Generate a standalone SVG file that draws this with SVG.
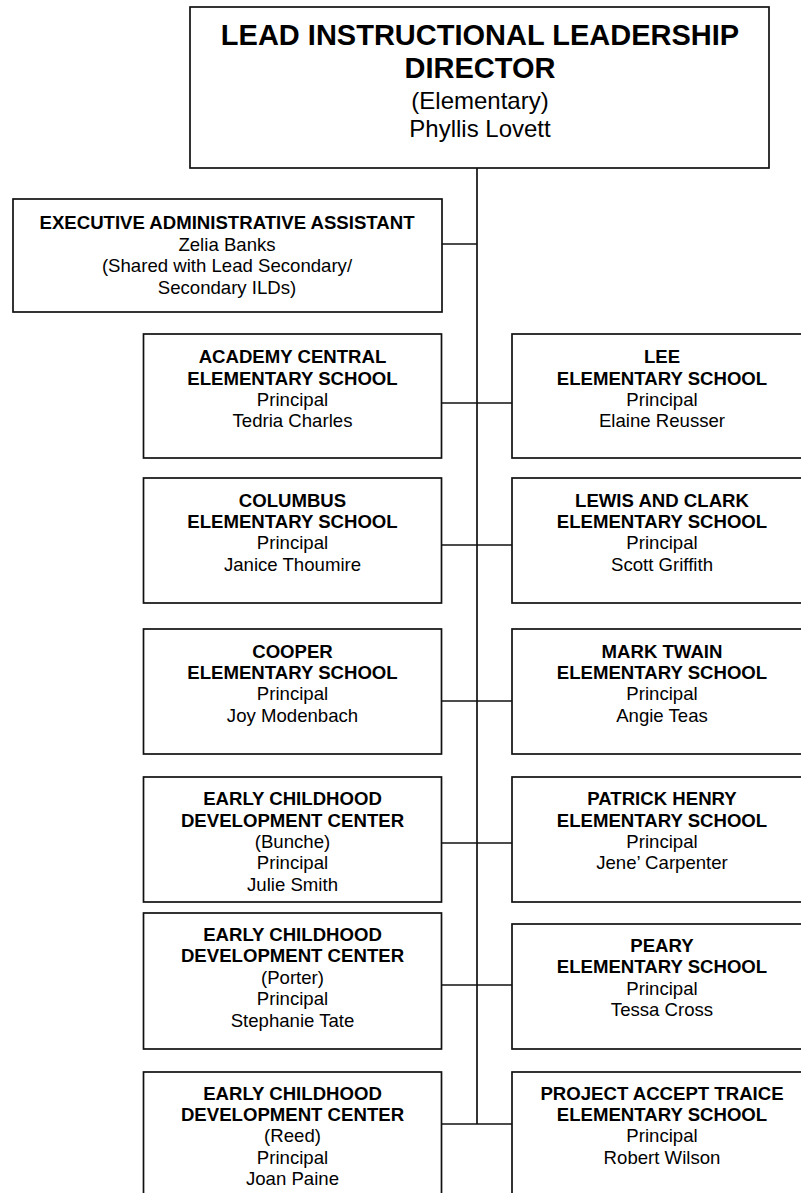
<svg xmlns="http://www.w3.org/2000/svg" width="801" height="1193" viewBox="0 0 801 1193">
<style>
  .box { fill: #ffffff; stroke: #111111; stroke-width: 1.7; }
  .conn { stroke: #111111; stroke-width: 1.7; fill: none; }
  text { font-family: "Liberation Sans", Arial, sans-serif; fill: #000000; text-anchor: middle; }
  .t { font-size: 18.6px; font-weight: bold; }
  .r { font-size: 18.6px; }
  .tt { font-size: 29px; font-weight: bold; }
  .tr { font-size: 24px; }
</style>
<rect width="801" height="1193" fill="#ffffff"/>
<g id="connectors">
  <line class="conn" x1="477" y1="168" x2="477" y2="1124"/>
  <line class="conn" x1="442" y1="244" x2="477" y2="244"/>
  <line class="conn" x1="442" y1="403" x2="512" y2="403"/>
  <line class="conn" x1="442" y1="545" x2="512" y2="545"/>
  <line class="conn" x1="442" y1="701" x2="512" y2="701"/>
  <line class="conn" x1="442" y1="843" x2="512" y2="843"/>
  <line class="conn" x1="442" y1="985" x2="512" y2="985"/>
  <line class="conn" x1="442" y1="1124" x2="512" y2="1124"/>
</g>
<g id="director">
  <rect class="box" x="190" y="7" width="579" height="161"/>
  <text class="tt" x="480" y="45">LEAD INSTRUCTIONAL LEADERSHIP</text>
  <text class="tt" x="480" y="78">DIRECTOR</text>
  <text class="tr" x="480" y="108.5">(Elementary)</text>
  <text class="tr" x="480" y="136.5">Phyllis Lovett</text>
</g>
<g id="exec-assistant">
  <rect class="box" x="13" y="199" width="429" height="113"/>
  <text class="t" x="227" y="229.3">EXECUTIVE ADMINISTRATIVE ASSISTANT</text>
  <text class="r" x="227" y="250.7">Zelia Banks</text>
  <text class="r" x="227" y="272.1">(Shared with Lead Secondary/</text>
  <text class="r" x="227" y="293.5">Secondary ILDs)</text>
</g>
<g id="academy-central">
  <rect class="box" x="143.5" y="334" width="298" height="124"/>
  <text class="t" x="292.5" y="363">ACADEMY CENTRAL</text>
  <text class="t" x="292.5" y="384.5">ELEMENTARY SCHOOL</text>
  <text class="r" x="292.5" y="406">Principal</text>
  <text class="r" x="292.5" y="427">Tedria Charles</text>
</g>
<g id="lee">
  <rect class="box" x="512" y="334" width="300" height="124"/>
  <text class="t" x="662" y="363">LEE</text>
  <text class="t" x="662" y="384.5">ELEMENTARY SCHOOL</text>
  <text class="r" x="662" y="406">Principal</text>
  <text class="r" x="662" y="427">Elaine Reusser</text>
</g>
<g id="columbus">
  <rect class="box" x="143.5" y="478" width="298" height="125"/>
  <text class="t" x="292.5" y="506.5">COLUMBUS</text>
  <text class="t" x="292.5" y="528">ELEMENTARY SCHOOL</text>
  <text class="r" x="292.5" y="549.4">Principal</text>
  <text class="r" x="292.5" y="570.8">Janice Thoumire</text>
</g>
<g id="lewis-and-clark">
  <rect class="box" x="512" y="478" width="300" height="125"/>
  <text class="t" x="662" y="506.5">LEWIS AND CLARK</text>
  <text class="t" x="662" y="528">ELEMENTARY SCHOOL</text>
  <text class="r" x="662" y="549.4">Principal</text>
  <text class="r" x="662" y="570.8">Scott Griffith</text>
</g>
<g id="cooper">
  <rect class="box" x="143.5" y="629" width="298" height="125"/>
  <text class="t" x="292.5" y="657.5">COOPER</text>
  <text class="t" x="292.5" y="679">ELEMENTARY SCHOOL</text>
  <text class="r" x="292.5" y="700.4">Principal</text>
  <text class="r" x="292.5" y="721.8">Joy Modenbach</text>
</g>
<g id="mark-twain">
  <rect class="box" x="512" y="629" width="300" height="125"/>
  <text class="t" x="662" y="657.5">MARK TWAIN</text>
  <text class="t" x="662" y="679">ELEMENTARY SCHOOL</text>
  <text class="r" x="662" y="700.4">Principal</text>
  <text class="r" x="662" y="721.8">Angie Teas</text>
</g>
<g id="ecdc-bunche">
  <rect class="box" x="143.5" y="777" width="298" height="125"/>
  <text class="t" x="292.5" y="805">EARLY CHILDHOOD</text>
  <text class="t" x="292.5" y="826.5">DEVELOPMENT CENTER</text>
  <text class="r" x="292.5" y="847.9">(Bunche)</text>
  <text class="r" x="292.5" y="869.3">Principal</text>
  <text class="r" x="292.5" y="890.7">Julie Smith</text>
</g>
<g id="patrick-henry">
  <rect class="box" x="512" y="777" width="300" height="125"/>
  <text class="t" x="662" y="805">PATRICK HENRY</text>
  <text class="t" x="662" y="826.5">ELEMENTARY SCHOOL</text>
  <text class="r" x="662" y="847.9">Principal</text>
  <text class="r" x="662" y="869.3">Jene’ Carpenter</text>
</g>
<g id="ecdc-porter">
  <rect class="box" x="143.5" y="913" width="298" height="136"/>
  <text class="t" x="292.5" y="941">EARLY CHILDHOOD</text>
  <text class="t" x="292.5" y="962.4">DEVELOPMENT CENTER</text>
  <text class="r" x="292.5" y="983.8">(Porter)</text>
  <text class="r" x="292.5" y="1005.2">Principal</text>
  <text class="r" x="292.5" y="1026.6">Stephanie Tate</text>
</g>
<g id="peary">
  <rect class="box" x="512" y="924" width="300" height="125"/>
  <text class="t" x="662" y="952">PEARY</text>
  <text class="t" x="662" y="973.4">ELEMENTARY SCHOOL</text>
  <text class="r" x="662" y="994.8">Principal</text>
  <text class="r" x="662" y="1016.2">Tessa Cross</text>
</g>
<g id="ecdc-reed">
  <rect class="box" x="143.5" y="1072" width="298" height="140"/>
  <text class="t" x="292.5" y="1099.5">EARLY CHILDHOOD</text>
  <text class="t" x="292.5" y="1120.9">DEVELOPMENT CENTER</text>
  <text class="r" x="292.5" y="1142.3">(Reed)</text>
  <text class="r" x="292.5" y="1163.7">Principal</text>
  <text class="r" x="292.5" y="1185.1">Joan Paine</text>
</g>
<g id="project-accept-traice">
  <rect class="box" x="512" y="1072" width="300" height="140"/>
  <text class="t" x="662" y="1099.5">PROJECT ACCEPT TRAICE</text>
  <text class="t" x="662" y="1120.9">ELEMENTARY SCHOOL</text>
  <text class="r" x="662" y="1142.3">Principal</text>
  <text class="r" x="662" y="1163.7">Robert Wilson</text>
</g>
</svg>
